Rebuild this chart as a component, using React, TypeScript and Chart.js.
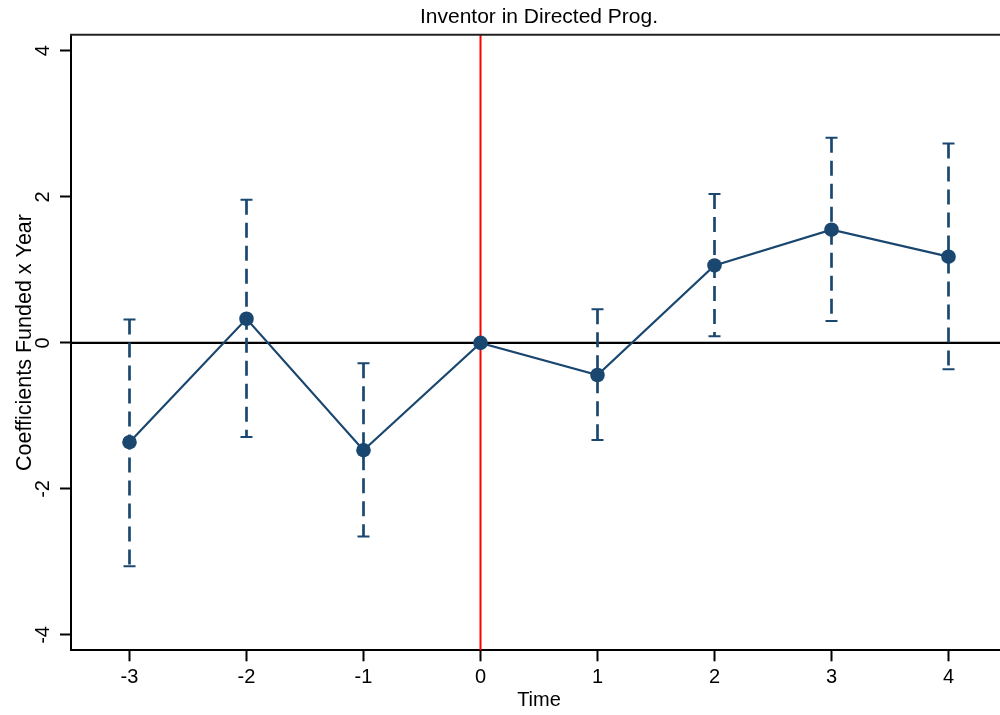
import { useEffect, useRef } from "react";
import { Chart, registerables } from "chart.js";

Chart.register(...registerables);

// ---- data ----
const times = [-3, -2, -1, 0, 1, 2, 3, 4];
const coefs = [-1.36, 0.33, -1.47, 0, -0.44, 1.06, 1.55, 1.18];
const ciLow: (number | null)[] = [-3.06, -1.29, -2.65, null, -1.33, 0.09, 0.3, -0.36];
const ciHigh: (number | null)[] = [0.32, 1.96, -0.28, null, 0.46, 2.04, 2.81, 2.73];
const xTicks = [-3, -2, -1, 0, 1, 2, 3, 4];
const yTicks = [-4, -2, 0, 2, 4];
const xRange = [-3.5, 4.5];
const yRange = [-4.21, 4.22];
const chartTitle = "Inventor in Directed Prog.";
const xTitle = "Time";
const yTitle = "Coefficients Funded x Year";

const NAVY = "#1a476f";
const FONT = "'Liberation Sans', Arial, Helvetica, sans-serif";

const refLines = {
  id: "refLines",
  beforeDatasetsDraw(chart: any) {
    const { ctx, chartArea, scales } = chart;
    const x = scales.x;
    const y = scales.y;
    ctx.save();
    const y0 = y.getPixelForValue(0);
    ctx.strokeStyle = "#000";
    ctx.lineWidth = 2.2;
    ctx.beginPath();
    ctx.moveTo(chartArea.left, y0);
    ctx.lineTo(chartArea.right, y0);
    ctx.stroke();
    const x0 = x.getPixelForValue(0);
    ctx.strokeStyle = "#ff0000";
    ctx.lineWidth = 2;
    ctx.beginPath();
    ctx.moveTo(x0, chartArea.top);
    ctx.lineTo(x0, chartArea.bottom);
    ctx.stroke();
    ctx.strokeStyle = "#222";
    ctx.lineWidth = 2;
    ctx.beginPath();
    ctx.moveTo(chartArea.left - 1, chartArea.top);
    ctx.lineTo(chartArea.right + 5, chartArea.top);
    ctx.stroke();
    ctx.restore();
  },
};

export default function App() {
  const ref = useRef<HTMLCanvasElement | null>(null);

  useEffect(() => {
    if (!ref.current) return;
    const mainData = times.map((t, i) => ({ x: t, y: coefs[i] }));
    const ciData: { x: number; y: number | null }[] = [];
    times.forEach((t, i) => {
      if (ciLow[i] === null || ciHigh[i] === null) return;
      ciData.push({ x: t, y: ciHigh[i] });
      ciData.push({ x: t, y: ciLow[i] });
      ciData.push({ x: t, y: null });
    });

    const chart = new Chart(ref.current, {
      type: "scatter",
      data: {
        datasets: [
          {
            data: mainData,
            showLine: true,
            borderColor: NAVY,
            backgroundColor: NAVY,
            borderWidth: 2.2,
            pointRadius: 7.3,
            pointBackgroundColor: NAVY,
            pointBorderWidth: 0,
            tension: 0,
          },
          {
            data: ciData as any,
            showLine: true,
            spanGaps: false,
            borderColor: NAVY,
            borderWidth: 2.7,
            borderDash: [15, 8],
            pointStyle: "line",
            pointRadius: 6,
            pointBorderWidth: 2,
            pointBorderColor: NAVY,
            pointBackgroundColor: NAVY,
          },
        ],
      },
      options: {
        animation: false,
        responsive: false,
        layout: { padding: { left: 0, right: 13, top: 0, bottom: 0 } },
        font: { family: FONT },
        plugins: {
          legend: { display: false },
          tooltip: { enabled: false },
          title: {
            display: true,
            text: chartTitle,
            fullSize: false,
            color: "#000",
            font: { family: FONT, size: 21, weight: "normal", lineHeight: 1.2 },
            padding: { top: 4.5, bottom: 5 },
          },
        },
        scales: {
          x: {
            type: "linear",
            min: xRange[0],
            max: xRange[1],
            afterBuildTicks: (s: any) => {
              s.ticks = xTicks.map((v) => ({ value: v }));
            },
            afterFit: (s: any) => {
              s.height = 64.7;
            },
            grid: {
              drawOnChartArea: false,
              drawTicks: true,
              tickLength: 11,
              tickColor: "#000",
              tickWidth: 2,
            },
            border: { display: true, color: "#000", width: 2 },
            ticks: {
              minRotation: 0,
              maxRotation: 0,
              padding: 4,
              color: "#000",
              font: { family: FONT, size: 20 },
              callback: (v: any) => String(v),
            },
            title: {
              display: true,
              text: xTitle,
              color: "#000",
              font: { family: FONT, size: 20 },
              padding: { top: 0, bottom: 3 },
            },
          },
          y: {
            type: "linear",
            min: yRange[0],
            max: yRange[1],
            afterBuildTicks: (s: any) => {
              s.ticks = yTicks.map((v) => ({ value: v }));
            },
            afterFit: (s: any) => {
              s.width = 71;
            },
            grid: {
              drawOnChartArea: false,
              drawTicks: true,
              tickLength: 11,
              tickColor: "#000",
              tickWidth: 2,
            },
            border: { display: true, color: "#000", width: 2 },
            ticks: {
              minRotation: 90,
              maxRotation: 90,
              crossAlign: "center",
              padding: 8,
              color: "#000",
              font: { family: FONT, size: 20 },
              callback: (v: any) => String(v),
            },
            title: {
              display: true,
              text: yTitle,
              color: "#000",
              font: { family: FONT, size: 21.5 },
              padding: { top: 12, bottom: 0 },
            },
          },
        },
      } as any,
      plugins: [refLines],
    });
    return () => chart.destroy();
  }, []);

  return (
    <div
      style={{
        position: "absolute",
        left: 0,
        top: 0,
        width: 1000,
        height: 715,
        overflow: "hidden",
        background: "#fff",
      }}
    >
      <canvas ref={ref} width={1020} height={715} style={{ display: "block" }} />
    </div>
  );
}
